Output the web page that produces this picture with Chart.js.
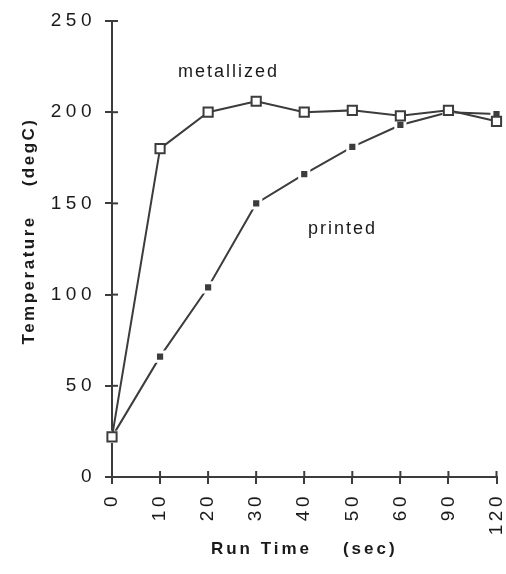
<!DOCTYPE html>
<html><head><meta charset="utf-8">
<script src="https://cdn.jsdelivr.net/npm/chart.js@4"></script>
<style>html,body{margin:0;padding:0;background:#fff}</style>
</head><body>
<canvas id="c" width="506" height="574"></canvas>
<script>
// ---- data ----
const categories = ['0', '10', '20', '30', '40', '50', '60', '90', '120'];
const metallized = [22, 180, 200, 206, 200, 201, 198, 201, 195];
const printed = [22, 66, 104, 150, 166, 181, 193, 200, 199];
const yTickValues = [0, 50, 100, 150, 200, 250];
const seriesNames = ['metallized', 'printed'];
const xTitle = 'Run Time    (sec)';
const yTitle = 'Temperature    (degC)';

// ---- styles ----
const INK = '#3c3c3c';
const FONT = 'Liberation Sans, Arial, Helvetica, sans-serif';
const spacing = { x: { labels: '3.5px', title: '3px' }, y: { labels: '4.5px', title: '2.5px' } };
const titleShift = { x: 0, y: -18 };
const annot = [
  { text: seriesNames[0], idx: 1.375, val: 222 },
  { text: seriesNames[1], idx: 4.08, val: 136 }
];

const spacingPlugin = {
  id: 'spacing',
  afterUpdate(chart) {
    for (const id of Object.keys(chart.scales)) {
      const s = chart.scales[id];
      if (s._spWrapped || !spacing[id]) continue;
      s._spWrapped = true;
      const origL = s.drawLabels.bind(s), origT = s.drawTitle.bind(s);
      s.drawLabels = function (a) { const c = this.ctx; c.save(); c.letterSpacing = spacing[id].labels; origL(a); c.restore(); };
      s.drawTitle = function () { const c = this.ctx; c.save(); c.letterSpacing = spacing[id].title; c.translate(0, titleShift[id]); origT(); c.restore(); };
    }
  }
};

const crossTicks = {
  id: 'crossTicks',
  beforeDatasetsDraw(chart) {
    const { ctx, chartArea: a, scales: { x, y } } = chart;
    ctx.save(); ctx.strokeStyle = INK; ctx.lineWidth = 2;
    y.ticks.forEach((t, i) => { const p = y.getPixelForTick(i); ctx.beginPath(); ctx.moveTo(a.left, p); ctx.lineTo(a.left + 6, p); ctx.stroke(); });
    x.ticks.forEach((t, i) => { const p = x.getPixelForTick(i); ctx.beginPath(); ctx.moveTo(p, a.bottom); ctx.lineTo(p, a.bottom - 6); ctx.stroke(); });
    ctx.restore();
  }
};

const labelsPlugin = {
  id: 'seriesLabels',
  afterDatasetsDraw(chart) {
    const { ctx, scales: { x, y } } = chart;
    ctx.save();
    ctx.font = '18px ' + FONT; ctx.fillStyle = '#1a1a1a';
    ctx.letterSpacing = '2px'; ctx.textAlign = 'left'; ctx.textBaseline = 'middle';
    annot.forEach(a => ctx.fillText(a.text, x.getPixelForValue(a.idx), y.getPixelForValue(a.val)));
    ctx.restore();
  }
};

new Chart(document.getElementById('c'), {
  type: 'line',
  data: {
    labels: categories,
    datasets: [
      { label: seriesNames[0], data: metallized, borderColor: INK, borderWidth: 2,
        pointStyle: 'rect', pointRadius: 6.5, pointBackgroundColor: '#fff', pointBorderColor: INK, pointBorderWidth: 2,
        tension: 0, clip: false },
      { label: seriesNames[1], data: printed, borderColor: INK, borderWidth: 2,
        pointStyle: 'rect', pointRadius: 6.5, pointBackgroundColor: INK, pointBorderColor: '#fff', pointBorderWidth: 3,
        tension: 0, clip: false }
    ]
  },
  options: {
    responsive: false, animation: false,
    layout: { padding: { left: 0, top: 21, right: 9, bottom: 0 } },
    plugins: { legend: { display: false }, tooltip: { enabled: false } },
    scales: {
      x: {
        type: 'category', offset: false,
        afterFit(s) { s.height = 97; s.paddingRight = 0; s.paddingLeft = 0; },
        grid: { drawOnChartArea: false, tickLength: 7, color: INK, lineWidth: 2 },
        border: { color: INK, width: 2 },
        ticks: { autoSkip: false, maxRotation: 90, minRotation: 90, padding: 9, color: '#1a1a1a', font: { family: FONT, size: 19 } },
        title: { display: true, text: xTitle, color: '#1a1a1a', font: { family: FONT, size: 17, weight: 'bold' }, padding: { top: 0, bottom: 14 } }
      },
      y: {
        min: 0, max: 250,
        afterFit(s) { s.width = 112; s.paddingTop = 0; s.paddingBottom = 0; },
        afterBuildTicks(s) { s.ticks = yTickValues.map(v => ({ value: v })); },
        grid: { drawOnChartArea: false, tickLength: 7, color: INK, lineWidth: 2 },
        border: { color: INK, width: 2 },
        ticks: { padding: 9, color: '#1a1a1a', font: { family: FONT, size: 19 } },
        title: { display: true, text: yTitle, color: '#1a1a1a', font: { family: FONT, size: 17, weight: 'bold' }, padding: { top: 19, bottom: 0 } }
      }
    }
  },
  plugins: [spacingPlugin, crossTicks, labelsPlugin]
});
</script>
</body></html>
